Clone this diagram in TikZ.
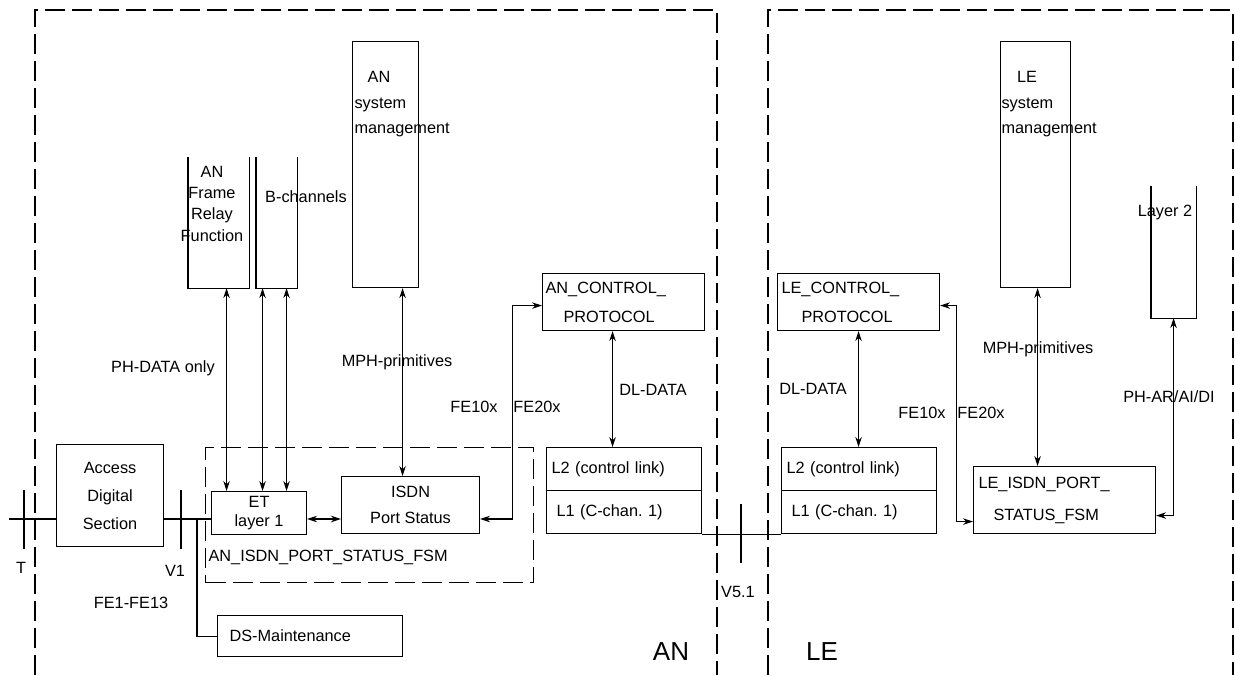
\documentclass[tikz,border=0pt]{standalone}
\usepackage{fontspec}
\setmainfont{Liberation Sans}
\usetikzlibrary{arrows.meta}
\frenchspacing
\begin{document}
\begin{tikzpicture}[x=1pt, y=-1pt, line width=1.1pt,
    every node/.style={font=\fontsize{16.3}{19}\selectfont},
    blk/.style={draw, inner sep=0pt, anchor=north west},
    openblk/.style={inner sep=0pt, anchor=north west},
    lbox/.style={blk, minimum width=155pt, minimum height=43pt, text width=145pt, inner xsep=5pt, align=left},
    zone/.style={dash pattern=on 20pt off 7pt},
    both/.style={{Stealth[length=10pt,width=6.5pt]}-{Stealth[length=10pt,width=6.5pt]}}]
    \useasboundingbox (0,0) rectangle (1237,675);
    % AN and LE zones
    \draw[zone] (35,675) |- (717,10) -- (717,675);
    \draw[zone] (768,675) |- (1233,10) -- (1233,675);
    \node[font=\fontsize{26}{30}\selectfont] (anzone) at (671,652) {AN};
    \node[font=\fontsize{26}{30}\selectfont] (lezone) at (822,652) {LE};

    % AN side
    \node[blk, minimum width=107pt, minimum height=102pt, align=center] (ads) at (56,444) {Access\\[9pt]Digital\\[9pt]Section};
    \node[draw, zone, inner sep=0pt, anchor=north west, minimum width=328pt, minimum height=135pt] (anfsm) at (205,447) {};
    \node[anchor=west, inner sep=0pt] (anfsmlabel) at (208,557) {AN\_ISDN\_PORT\_STATUS\_FSM};
    \node[blk, minimum width=95pt, minimum height=43pt, align=center] (et) at (211,491) {ET\\layer 1};
    \node[blk, minimum width=138pt, minimum height=57pt, align=center] (isdn) at (341,476) {ISDN\\[7pt]Port Status};
    \node[blk, minimum width=185pt, minimum height=41pt, text width=161pt, inner xsep=12pt, align=left] (dsm) at (217,615) {DS-Maintenance};
    \node[openblk, minimum width=60pt, minimum height=130pt] (frf) at (188,157) {};
    \node[openblk, minimum width=40pt, minimum height=130pt] (bch) at (256,157) {};
    \node[align=center, inner sep=0pt] (frftext) at (212,204) {AN\\[2pt]Frame\\[2pt]Relay\\[3pt]Function};
    \node (bchtext) at (306,197) {B-channels};
    \node[blk, minimum width=66pt, minimum height=246pt] (ansm) at (352,41) {};
    \node (ansmtitle) at (379,77) {AN};
    \node[anchor=west, align=left, inner sep=0pt] (ansmtext) at (354,117.5) {system\\[6pt]management};
    \node[blk, minimum width=162pt, minimum height=57pt, text width=156pt, inner xsep=3pt, align=left] (ancp) at (542,273) {AN\_CONTROL\_\\[10pt]\hspace*{18pt}PROTOCOL};
    \node[lbox] (anl2) at (546,447) {L2 (control link)};
    \node[lbox] (anl1) at (546,490) {\hspace*{5pt}L1 (C-chan. 1)};

    % LE side
    \node[blk, minimum width=70pt, minimum height=246pt] (lesm) at (1000,41) {};
    \node (lesmtitle) at (1027,77) {LE};
    \node[anchor=west, align=left, inner sep=0pt] (lesmtext) at (1001,117.5) {system\\[6pt]management};
    \node[openblk, minimum width=44pt, minimum height=131pt] (lay2) at (1151,186) {};
    \node (lay2text) at (1165,212) {Layer 2};
    \node[blk, minimum width=162pt, minimum height=57pt, text width=154pt, inner xsep=4pt, align=left] (lecp) at (777,273) {LE\_CONTROL\_\\[10pt]\hspace*{20pt}PROTOCOL};
    \node[lbox] (lel2) at (781,447) {L2 (control link)};
    \node[lbox] (lel1) at (781,490) {\hspace*{5pt}L1 (C-chan. 1)};
    \node[blk, minimum width=182pt, minimum height=67pt, text width=172pt, inner xsep=5pt, align=left] (lefsm) at (973,466) {LE\_ISDN\_PORT\_\\[13pt]\hspace*{15pt}STATUS\_FSM};

    % open boxes
    \foreach \b in {frf,bch,lay2}
        \draw (\b.north west) |- (\b.south east) -- (\b.north east);

    % line to the subscriber and reference points
    \coordinate (bus) at (0,519);
    \coordinate (tin) at (9,519);
    \coordinate (tap) at (197,519);
    \draw (tin) -- (ads.west |- bus);
    \draw (ads.east |- bus) -- (et.west |- bus);
    \draw (tap) |- (dsm.west);
    \draw (anl1.south east) -- (lel1.south west);
    \foreach \x/\y in {24/490, 181/490, 741/504}
        \draw (\x,\y) -- ++(0,59);
    \node (tlabel) at (21,568) {T};
    \node (v1label) at (175,571) {V1};
    \node (felabel) at (131,603) {FE1-FE13};
    \node (v51label) at (738,592) {V5.1};

    % primitives
    \draw[both] ([xshift=8pt]frf.south) -- ([xshift=8pt]frf.south |- et.north);
    \draw[both] ([xshift=-14pt]bch.south) -- ([xshift=-14pt]bch.south |- et.north);
    \draw[both] ([xshift=10pt]bch.south) -- ([xshift=10pt]bch.south |- et.north);
    \draw[both] (et.east |- bus) -- (isdn.west |- bus);
    \draw[both] ([xshift=17pt]ansm.south) -- ([xshift=17pt]ansm.south |- isdn.north);
    \draw[both] (isdn.east |- bus) -- ++(32,0) |- ([yshift=-3.5pt]ancp.west);
    \draw[both] ([xshift=-11pt]ancp.south) -- ([xshift=-11pt]ancp.south |- anl2.north);
    \draw[both] (lecp.south) -- (lecp.south |- lel2.north);
    \draw[both] ([yshift=-3.5pt]lecp.east) -- ++(16,0) |- ([yshift=-21.5pt]lefsm.west);
    \draw[both] ([xshift=2pt]lesm.south) -- ([xshift=2pt]lesm.south |- lefsm.north);
    \draw[both] (lay2.south) |- ([yshift=-15.5pt]lefsm.east);
    \node (phdata) at (163,368) {PH-DATA only};
    \node (anmph) at (397,362) {MPH-primitives};
    \node (anfe10) at (474,407) {FE10x};
    \node (anfe20) at (537,407) {FE20x};
    \node (andl) at (653,390) {DL-DATA};
    \node (ledl) at (813,389) {DL-DATA};
    \node (lefe10) at (922,413) {FE10x};
    \node (lefe20) at (981,413) {FE20x};
    \node (lemph) at (1038,349) {MPH-primitives};
    \node (phar) at (1169,397) {PH-AR/AI/DI};
\end{tikzpicture}
\end{document}
